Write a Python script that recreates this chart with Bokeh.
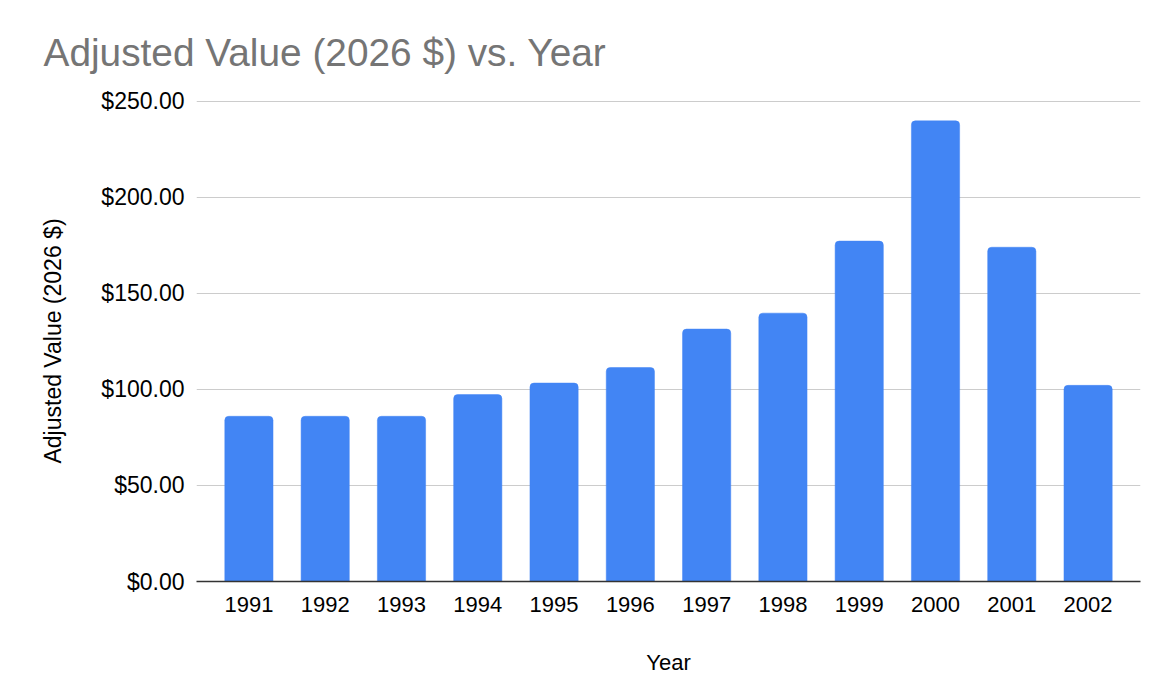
from bokeh.plotting import figure
from bokeh.models import Range1d, FixedTicker, NumeralTickFormatter, ColumnDataSource
from bokeh.embed import file_html
from bokeh.resources import INLINE

years = [1991, 1992, 1993, 1994, 1995, 1996, 1997, 1998, 1999, 2000, 2001, 2002]
values = [86.0, 86.0, 86.0, 97.3, 103.3, 111.4, 131.4, 139.7, 177.2, 239.8, 174.0, 102.1]
y_ticks = [0, 50, 100, 150, 200, 250]

title_text = "Adjusted Value (2026 $) vs. Year"
x_label = "Year"
y_label = "Adjusted Value (2026 $)"

FONT = "Liberation Sans"

p = figure(width=1164, height=682, output_backend="svg", toolbar_location=None,
           x_range=Range1d(years[0] - 0.687, years[-1] + 0.687),
           y_range=Range1d(0, 250.4),
           min_border_left=196, min_border_right=24, min_border_top=100, min_border_bottom=101,
           title=title_text)

p.outline_line_color = None
p.background_fill_color = "white"
p.border_fill_color = "white"

src = ColumnDataSource(dict(x=years, top=values))
p.vbar(x="x", top="top", bottom=0, width=0.632, source=src,
       fill_color="#4285F4", line_color="#4285F4", line_width=0.5,
       border_radius=(4, 4, 0, 0))

p.title.text_font = FONT
p.title.text_font_size = "38.8px"
p.title.text_font_style = "normal"
p.title.text_color = "#757575"
p.title.align = "left"
p.title.offset = -153
p.title.standoff = 54

# x axis
p.xaxis.ticker = FixedTicker(ticks=years)
p.xaxis.axis_label = x_label
p.xaxis.axis_label_text_font = FONT
p.xaxis.axis_label_text_font_size = "22px"
p.xaxis.axis_label_text_font_style = "normal"
p.xaxis.axis_label_text_color = "#000000"
p.xaxis.axis_label_standoff = 35
p.xaxis.major_label_text_font = FONT
p.xaxis.major_label_text_font_size = "22px"
p.xaxis.major_label_text_color = "#000000"
p.xaxis.major_label_standoff = 9
p.xaxis.major_tick_line_color = None
p.xaxis.minor_tick_line_color = None
p.xaxis.axis_line_color = "#333333"
p.xaxis.axis_line_width = 1.5

# y axis
p.yaxis.ticker = FixedTicker(ticks=y_ticks)
p.yaxis.formatter = NumeralTickFormatter(format="$0.00")
p.yaxis.axis_label = y_label
p.yaxis.axis_label_text_font = FONT
p.yaxis.axis_label_text_font_size = "23px"
p.yaxis.axis_label_text_font_style = "normal"
p.yaxis.axis_label_text_color = "#000000"
p.yaxis.axis_label_standoff = 32
p.yaxis.major_label_text_font = FONT
p.yaxis.major_label_text_font_size = "23px"
p.yaxis.major_label_text_color = "#000000"
p.yaxis.major_label_standoff = 6
p.yaxis.major_tick_line_color = None
p.yaxis.minor_tick_line_color = None
p.yaxis.axis_line_color = None

p.xgrid.grid_line_color = None
p.ygrid.grid_line_color = "#cccccc"
p.ygrid.grid_line_width = 1

open("out.html", "w").write(file_html(p, INLINE))
